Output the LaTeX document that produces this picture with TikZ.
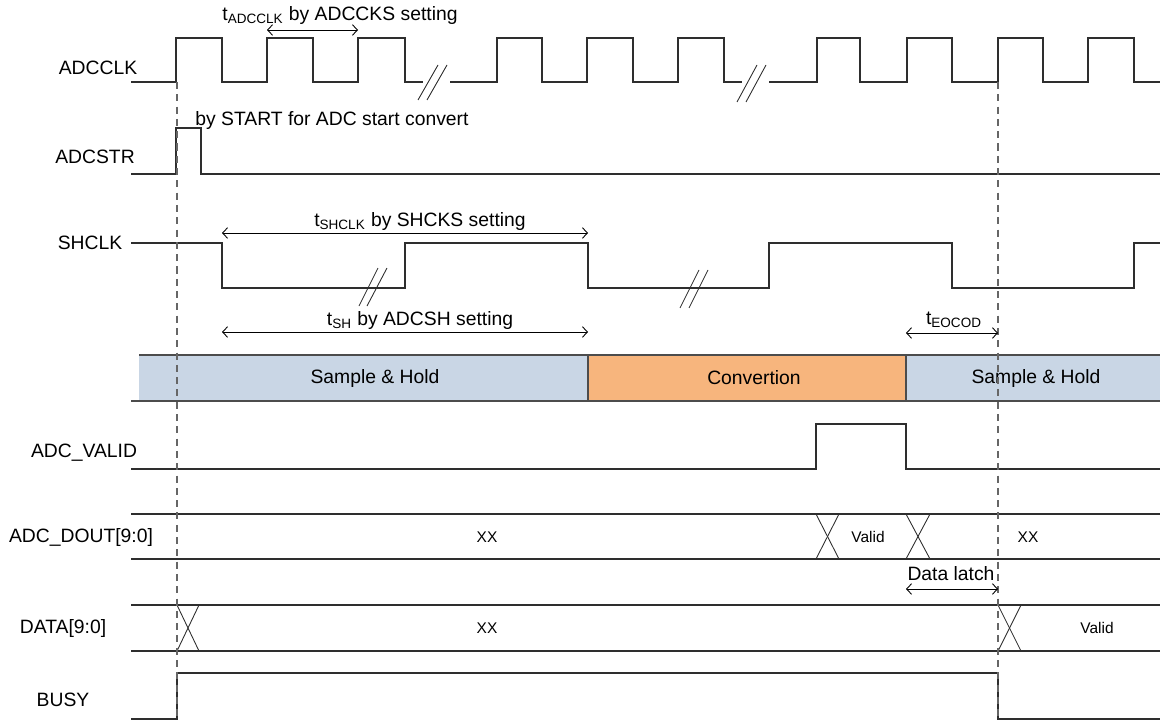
\documentclass[tikz,border=0pt]{standalone}
\usepackage{fontspec}
\setmainfont{Liberation Sans}
\usetikzlibrary{arrows.meta}

\definecolor{shblue}{HTML}{C9D6E5}
\definecolor{cvorange}{HTML}{F7B57D}
\definecolor{wire}{HTML}{2E2E2E}

\tikzstyle{sig}=[draw=wire, line width=0.6pt]
\tikzstyle{brk}=[draw=wire, line width=0.5pt]
\tikzstyle{guide}=[draw=black!60, line width=0.7pt, dash pattern=on 4pt off 3pt]
\tikzstyle{dim}=[draw=black, line width=0.5pt, {Straight Barb[length=2.8pt,width=6pt]}-{Straight Barb[length=2.8pt,width=6pt]}]
\tikzstyle{lbl}=[inner sep=0pt, font=\fontsize{11}{13}\selectfont]
\tikzstyle{val}=[inner sep=0pt, font=\fontsize{8.8}{10}\selectfont]
\tikzstyle{band}=[draw=none]
\tikzstyle{edge}=[draw=black!70, line width=0.6pt]

\begin{document}
\begin{tikzpicture}[x=0.02cm, y=-0.02cm]
    \useasboundingbox (0,0) rectangle (1160,720);

    % signal names
    \node[lbl] (nclk)   at (98, 68)   {ADCCLK};
    \node[lbl] (nstr)   at (95, 157)  {ADCSTR};
    \node[lbl] (nsh)    at (90, 243)  {SHCLK};
    \node[lbl] (nvalid) at (84, 453)  {ADC\_VALID};
    \node[lbl] (ndout)  at (81, 537)  {ADC\_DOUT[9:0]};
    \node[lbl] (ndata)  at (63, 628)  {DATA[9:0]};
    \node[lbl] (nbusy)  at (63, 700)  {BUSY};

    % phase band
    \fill[band, fill=shblue]   (139,355) rectangle (588,401);
    \fill[band, fill=cvorange] (588,355) rectangle (906,401);
    \fill[band, fill=shblue]   (906,355) rectangle (1160,401);
    \draw[edge] (139,355) -- (1160,355);
    \draw[edge] (131,401) -- (1160,401);
    \draw[edge] (588,355) -- (588,401);
    \draw[edge] (906,355) -- (906,401);
    \node[lbl] (sh1) at (375, 378)  {Sample \& Hold};
    \node[lbl] (cv)  at (754, 378)  {Convertion};
    \node[lbl] (sh2) at (1036, 378) {Sample \& Hold};

    % ADCCLK
    \draw[sig] (131,82) -- (176,82) -- (176,38) -- (222,38) -- (222,82) -- (267,82) -- (267,38)
        -- (313,38) -- (313,82) -- (358,82) -- (358,38) -- (405,38) -- (405,82) -- (423,82);
    \draw[sig] (450,82) -- (497,82) -- (497,38) -- (542,38) -- (542,82) -- (587,82) -- (587,38)
        -- (633,38) -- (633,82) -- (678,82) -- (678,38) -- (724,38) -- (724,82) -- (742,82);
    \draw[sig] (769,82) -- (817,82) -- (817,38) -- (860,38) -- (860,82) -- (907,82) -- (907,38)
        -- (952,38) -- (952,82) -- (998,82) -- (998,38) -- (1043,38) -- (1043,82) -- (1088,82)
        -- (1088,38) -- (1134,38) -- (1134,82) -- (1160,82);
    \draw[brk] (418,100) -- (438,65);
    \draw[brk] (427,100) -- (447,65);
    \draw[brk] (737,102) -- (757,65);
    \draw[brk] (746,102) -- (766,65);

    % ADCSTR
    \draw[sig] (131,174) -- (176,174) -- (176,128) -- (201,128) -- (201,174) -- (1160,174);

    % SHCLK
    \draw[sig] (131,243) -- (222,243) -- (222,288) -- (405,288) -- (405,243) -- (588,243)
        -- (588,288) -- (769,288) -- (769,243) -- (952,243) -- (952,288) -- (1134,288)
        -- (1134,243) -- (1160,243);
    \draw[brk] (359,306) -- (378,268);
    \draw[brk] (367,306) -- (387,268);
    \draw[brk] (680,308) -- (699,270);
    \draw[brk] (689,308) -- (708,270);

    % ADC_VALID
    \draw[sig] (131,469) -- (816,469) -- (816,424) -- (906,424) -- (906,469) -- (1160,469);

    % ADC_DOUT[9:0]
    \draw[sig] (131,514) -- (1160,514);
    \draw[sig] (131,559) -- (1160,559);
    \draw[brk] (816,514) -- (839,559);
    \draw[brk] (816,559) -- (839,514);
    \draw[brk] (906,514) -- (930,559);
    \draw[brk] (906,559) -- (930,514);
    \node[val] (dxx)  at (487, 537)  {XX};
    \node[val] (dval) at (868, 537)  {Valid};
    \node[val] (dxx2) at (1028, 537) {XX};

    % DATA[9:0]
    \draw[sig] (131,605) -- (1160,605);
    \draw[sig] (131,651) -- (1160,651);
    \draw[brk] (177,605) -- (199,651);
    \draw[brk] (177,651) -- (199,605);
    \draw[brk] (998,605) -- (1021,651);
    \draw[brk] (998,651) -- (1021,605);
    \node[val] (axx)  at (487, 628)  {XX};
    \node[val] (aval) at (1097, 628) {Valid};

    % BUSY
    \draw[sig] (131,719) -- (177,719) -- (177,673) -- (998,673) -- (998,719) -- (1160,719);

    % guides
    \draw[guide] (177,82) -- (177,719);
    \draw[guide] (998,82) -- (998,719);

    % timing marks
    \coordinate (clkA) at (267,30);
    \coordinate (clkB) at (358,30);
    \draw[dim] (clkA) -- (clkB);
    \node[lbl] (tclk) at (340, 16) {t\textsubscript{ADCCLK} by ADCCKS setting};

    \node[lbl, anchor=west] (tstr) at (195, 121) {by START for ADC start convert};

    \coordinate (shA) at (222,233);
    \coordinate (shB) at (588,233);
    \draw[dim] (shA) -- (shB);
    \node[lbl] (tsh) at (420, 222) {t\textsubscript{SHCLK} by SHCKS setting};

    \coordinate (holdA) at (222,332);
    \coordinate (holdB) at (588,332);
    \draw[dim] (holdA) -- (holdB);
    \node[lbl] (thold) at (420, 321) {t\textsubscript{SH} by ADCSH setting};

    \coordinate (eocA) at (906,333);
    \coordinate (eocB) at (998,333);
    \draw[dim] (eocA) -- (eocB);
    \node[lbl] (teoc) at (954, 320) {t\textsubscript{EOCOD}};

    \coordinate (latA) at (906,589);
    \coordinate (latB) at (998,589);
    \draw[dim] (latA) -- (latB);
    \node[lbl] (tlat) at (951, 574) {Data latch};
\end{tikzpicture}
\end{document}
